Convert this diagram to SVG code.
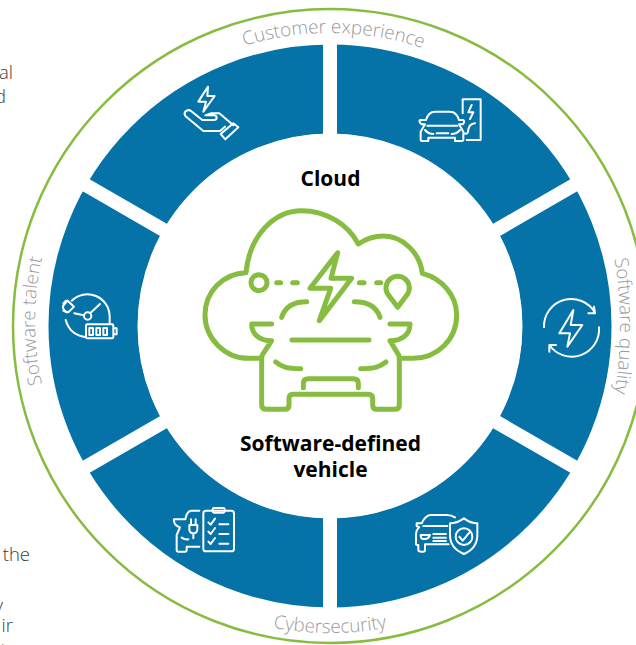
<svg xmlns="http://www.w3.org/2000/svg" width="636" height="645" viewBox="0 0 636 645">
<style>
.lab{font-family:"Open Sans","Liberation Sans",sans-serif;font-weight:300;font-size:18.800px;fill:#9a9a9a;text-anchor:middle}
.side{font-family:"Open Sans","Liberation Sans",sans-serif;font-weight:300;font-size:18.500px;fill:#3c3c3c;text-anchor:end}
.head{font-family:"Open Sans","Liberation Sans",sans-serif;font-weight:700;font-size:21px;fill:#000;text-anchor:middle}
.ic{fill:none;stroke:#fff;stroke-width:6;stroke-linecap:round;stroke-linejoin:round}
.big{fill:none;stroke:#86bc40;stroke-width:15;stroke-linecap:round;stroke-linejoin:round}
</style>
<defs>
<path id="pTop" d="M37 326A293 293 0 0 1 623 326"/>
<path id="pRight" d="M521.700 56A420 420 0 0 1 521.700 596"/>
<path id="pLeft" d="M330 616A295 295 0 0 1 330 26"/>
<path id="pBottom" d="M23 326A307 307 0 0 0 637 326"/>
</defs>
<rect width="636" height="645" fill="#fff"/>
<text class="side" x="13" y="79">al</text>
<text class="side" x="6" y="103">d</text>
<text class="side" x="30" y="561">the</text>
<text class="side" x="3" y="612">y</text>
<text class="side" x="13" y="632">ir</text>
<text class="side" x="5" y="646">.</text>
<g id="ring"><circle cx="330" cy="326" r="317" fill="none" stroke="#86bc40" stroke-width="2.500"/></g>
<g id="wheel">
<circle cx="330" cy="326" r="237" fill="none" stroke="#0573a8" stroke-width="89"/>
<g stroke="#fff" stroke-width="14">
<path d="M330 30V622"/>
<path d="M73.600 178L586.400 474"/>
<path d="M73.600 474L586.400 178"/>
</g>
<circle cx="330" cy="326" r="192" fill="#fff"/>
</g>
<g id="label-customer"><text class="lab"><textPath href="#pTop" startOffset="50.400%">Customer experience</textPath></text></g>
<g id="label-quality"><text class="lab"><textPath href="#pRight" startOffset="50%">Software quality</textPath></text></g>
<g id="label-talent"><text class="lab"><textPath href="#pLeft" startOffset="50%">Software talent</textPath></text></g>
<g id="label-cyber"><text class="lab"><textPath href="#pBottom" startOffset="50%">Cybersecurity</textPath></text></g>
<g id="center">
<text class="head" x="330.500" y="186">Cloud</text>
<text class="head"><tspan x="330.500" y="451">Software-defined</tspan><tspan x="330.500" y="477">vehicle</tspan></text>
<g transform="translate(170 190) scale(.33333)" class="big">
<path d="M272 505H235C165 505 105 445 105 375C105 305 160 250 228 248C238 140 310 62 395 62C470 62 535 105 565 162C590 145 615 138 640 138C700 138 750 190 757 250C815 265 860 315 860 375C860 450 800 505 730 505H690"/>
<circle cx="267" cy="278" r="24"/>
<path d="M320 278H332M368 278H382M568 278H582M620 278H632"/>
<path d="M683 352L656 316A35 35 0 1 1 710 316Z"/>
<path d="M503 188L420 295H482L448 392L545 265H483Z"/>
<path d="M335 382C345 350 370 335 410 335M553 335C595 335 620 350 630 382"/>
<path d="M305 402H245C245 430 265 452 305 452L280 490Q275 495 275 510V645Q275 658 290 658H345Q357 658 357 645V625Q357 613 370 613H595Q608 613 608 625V645Q608 658 620 658H675Q688 658 688 645V510Q688 495 683 490L660 452C700 452 720 430 720 402H660"/>
<path d="M366 450H597M317 516C335 530 350 536 392 536M648 516C630 530 615 536 572 536"/>
<path d="M400 593V580Q400 566 415 566H550Q565 566 565 580V593"/>
</g>
</g>
<g id="icon-hand" transform="translate(170 70) scale(.33333)" class="ic">
<path d="M114 50L85 95H108L100 125L134 78H112Z"/>
<path d="M46 138Q40 128 50 122Q57 118 64 124L97 150H130Q140 150 140 143Q140 136 130 136H106L122 130H148L190 166M46 138L100 183H150L165 170"/>
<path d="M152 192L190 160L205 172L166 208Z"/>
</g>
<g id="icon-charger" transform="translate(170 70) scale(.33333)" class="ic">
<path d="M878 130V88H932V210H890"/>
<path d="M905 105L895 127H910L900 147"/>
<path d="M768 150Q775 125 795 125H840Q860 125 867 150M768 150H750Q745 155 755 163H765L752 185V210Q752 213 756 213H775V203H855V213H875Q880 213 880 210V185L867 163H878Q886 155 880 150H867"/>
<path d="M772 167H862M765 180Q775 192 790 192M870 180Q860 192 845 192M800 190H835"/>
<path d="M882 190Q895 195 895 178Q898 162 915 160"/>
</g>
<g id="icon-refresh" transform="translate(520 240) scale(.33333)" class="ic">
<path d="M72 262A82 82 0 0 1 225 218M222 200L225 220L205 220"/>
<path d="M237 262A82 82 0 0 1 88 315M88 335L88 315L108 315"/>
<path d="M160 210L118 280H150L142 320L187 255H152Z"/>
</g>
<g id="icon-shield" transform="translate(160 490) scale(.33333)" class="ic">
<path d="M885 82Q875 75 860 75H810Q795 78 785 100H770V108L778 112Q768 120 768 135V162Q768 165 775 165V180Q775 185 785 185H790Q795 185 795 180V163H866"/>
<path d="M790 108H862M782 135H810Q805 147 795 147H790Q782 147 782 135ZM820 132H858M820 143H858M820 153H858"/>
<path d="M912 85Q890 100 870 100V135Q870 175 912 192Q952 175 952 135V100Q932 100 912 85Z"/>
<circle cx="912" cy="140" r="25"/>
<path d="M898 140L908 152L928 128"/>
</g>
<g id="icon-plug" transform="translate(160 490) scale(.33333)" class="ic">
<rect x="130" y="62" width="92" height="122" rx="8"/>
<rect x="158" y="54" width="36" height="14" rx="4"/>
<path d="M145 97L152 104L165 86M145 125L152 132L165 114M145 155L152 162L165 144M178 103H205M178 132H205M178 161H205"/>
<path d="M118 62H95Q80 62 76 88H42Q40 105 60 112L50 135V180Q50 185 55 185H75Q80 185 80 180V170H118"/>
<path d="M88 105H112V118Q112 130 100 130Q88 130 88 118ZM93 88V105M107 88V105M100 130V145M65 143Q75 150 85 148"/>
</g>
<g id="icon-battery" transform="translate(0 240) scale(.33333)" class="ic">
<circle cx="263" cy="228" r="11"/>
<path d="M215 182A67 67 0 0 1 329 230V250M255 291Q210 285 197 240"/>
<path d="M272 218L300 192M251 226L223 220"/>
<path d="M203 182L222 200L208 214Q200 220 192 210Q186 200 191 195ZM190 190L198 182M200 217L190 212"/>
<rect x="258" y="253" width="82" height="42" rx="4"/>
<path d="M342 265H350V283H342"/>
<path d="M268 264H279V285H268ZM289 264H300V285H289ZM310 264H321V285H310Z"/>
</g>
</svg>
